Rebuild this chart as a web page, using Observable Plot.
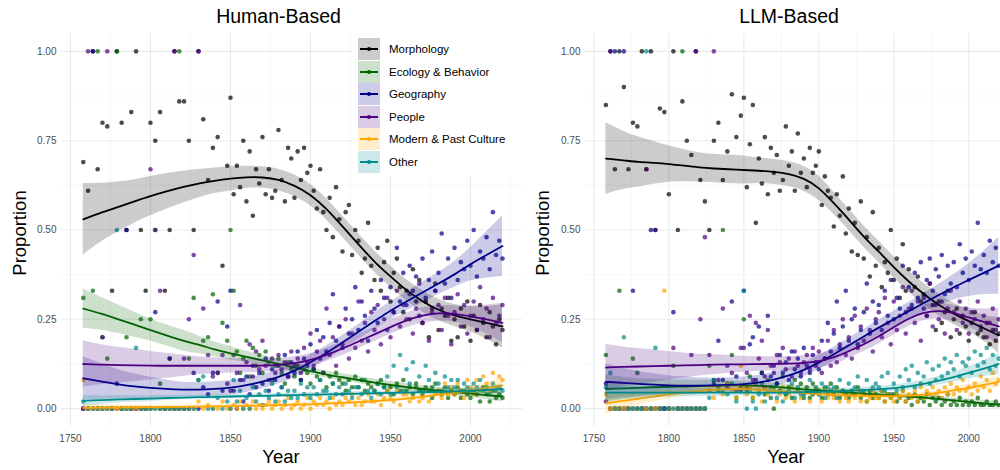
<!DOCTYPE html>
<html><head><meta charset="utf-8">
<script src="https://cdn.jsdelivr.net/npm/d3@7"></script>
<script src="https://cdn.jsdelivr.net/npm/@observablehq/plot@0.6"></script>
<style>
body{margin:0;background:#fff;font-family:"Liberation Sans",Arial,sans-serif}
#fig{position:relative;width:1000px;height:470px;overflow:hidden;background:#fff}
.pl{position:absolute;top:0}
#legend{position:absolute;left:352px;top:33px;width:172px;height:143px;background:#fff}
.lrow{position:absolute;left:0;height:22px;width:172px}
.lrow svg{position:absolute;left:6px;top:0}
.lrow span{position:absolute;left:37px;top:0;line-height:22px;font-size:11.5px;color:#000;white-space:nowrap}
#ov{position:absolute;left:0;top:0;pointer-events:none}
</style>
</head><body>
<div id="fig"></div>
<script>
// ---------- categories & colours ----------
const categories = ["Morphology","Ecology & Behavior","Geography","People","Modern & Past Culture","Other"];
const colors = ["#000000","#006400","#00008B","#4B0082","#FFA500","#008B8B"];

// ---------- axis ticks ----------
const xTicks = [1750,1800,1850,1900,1950,2000];
const xMinor = [1775,1825,1875,1925,1975,2025];
const yTicks = [0,0.25,0.5,0.75,1];
const yMinor = [0.125,0.375,0.625,0.875];

// ---------- point years ----------
const pointYears = [1758,1761,1764,1767,1770,1773,1776,1779,1782,1785,1788,1791,1794,1797,1800,1803,1806,1809,1812,1815,1818,1821,1824,1827,1830,1833,1836,1839,1842,1845,1848,
1850,1852,1854,1856,1858,1860,1862,1864,1866,1868,1870,1872,1874,1876,1878,1880,1882,1884,1886,1888,1890,1892,1894,1896,1898,
1900,1902,1904,1906,1908,1910,1912,1914,1916,1918,1920,1922,1924,1926,1928,1930,1932,1934,1936,1938,1940,1942,1944,1946,1948,
1950,1952,1954,1956,1958,1960,1962,1964,1966,1968,1970,1972,1974,1976,1978,1980,1982,1984,1986,1988,1990,1992,1994,1996,1998,
2000,2002,2004,2006,2008,2010,2012,2014,2016,2018,2020];

// ---------- Human-Based points ----------
const hMorph = [.69,.61,1,.67,.80,.79,.33,1,.80,.50,.83,1,.50,.33,.80,.75,.83,.33,.50,1,.86,.86,.75,.50,1,.81,.64,.73,.76,.40,.68,
.87,.60,.68,.62,.75, .58,.72,.54,.67,.63, .76,.60,.67,.59,.61, .78,.64,.58,.73,.70, .59,.72,.64,.73,.66,
.68,.61,.56,.67,.55, .50,.59,.48,.62,.53, .44,.55,.57,.43,.50, .47,.38,.42,.52,.40, .36,.45,.33,.41,.47,
.30,.38,.42,.34,.27, .33,.25,.39,.30,.36, .24,.30,.20,.28,.35, .22,.28,.26,.31,.19, .25,.20,.28,.23,.30,
.19,.26,.22,.29,.24, .20,.27,.23,.18,.25, .22];
const hEco = [.31,0,.33,1,.20,.14,0,1,0,.20,0,0,.25,0,.25,.50,.07,0,.14,0,1,0,.14,.31,.08,.19,.20,.32,.10,.24,.19,
.50,.33,.16,.10,.14, .19,.09,.17,.12,.15, .10,.16,.13,.08,.12, .14,.10,.07,.13,.11, .09,.12,.08,.11,.10,
.07,.11,.09,.08,.10, .06,.09,.07,.10,.08, .07,.05,.08,.06,.09, .06,.08,.05,.07,.06, .05,.07,.08,.06,.05,
.06,.04,.07,.05,.08, .05,.06,.04,.07,.05, .04,.06,.05,.03,.07, .05,.04,.06,.03,.05, .04,.06,.03,.05,.04,
.03,.05,.04,.02,.06, .04,.02,.05,.03,.04, .03];
const hGeo = [0,0,1,0,0,0,0,.07,0,.50,0,0,0,0,0,.27,0,0,.14,0,0,0,0,.10,0,.06,.04,.10,.30,.05,.23,
.33,.05,0,.08,.02, .09,.04,.12,.06,.10, .07,.14,.05,.11,.08, .12,.06,.15,.09,.13, .10,.16,.08,.14,.12,
.18,.11,.22,.14,.20, .16,.24,.32,.19,.23, .17,.28,.21,.25,.34, .22,.30,.26,.19,.33, .28,.24,.36,.31,.22,
.34,.27,.45,.30,.38, .29,.40,.33,.37,.26, .42,.31,.36,.44,.33, .38,.49,.35,.42,.31, .45,.36,.41,.39,.47,
.40,.50,.37,.44,.42, .48,.39,.55,.43,.47, .42];
const hPeople = [0,1,0,0,.20,1,0,0,0,0,0,0,0,0,.67,.50,.33,0,0,1,0,.14,.25,.43,1,.28,.15,.09,.10,.15,.07,
.05,.15,.10,.29,.08, .13,.18,.09,.16,.11, .19,.12,.08,.14,.10, .15,.11,.13,.09,.16, .12,.14,.10,.17,.13,
.21,.12,.16,.19,.10, .28,.15,.20,.12,.23, .18,.25,.14,.21,.17, .30,.19,.24,.16,.27, .22,.29,.18,.25,.31,
.20,.27,.33,.23,.29, .25,.32,.21,.28,.35, .24,.30,.19,.27,.33, .29,.22,.31,.26,.18, .27,.32,.23,.29,.21,
.26,.30,.22,.34,.25, .28,.20,.31,.24,.26, .29];
const hModern = [.08,0,0,0,0,0,0,0,0,0,0,0,0,0,0,0,0,0,0,0,0,0,0,0,.02,0,.01,0,0,.02,0,
0,.01,0,.02,0, .01,0,.02,0,.01, 0,.01,.02,0,.01, .02,0,.01,.03,0, .01,.02,0,.01,.03,
0,.02,.01,.03,.01, .02,0,.03,.01,.02, .01,.03,.02,.04,.01, .03,.01,.02,.04,.02, .02,.04,.01,.03,.05,
.03,.02,.05,.01,.04, .04,.02,.03,.06,.02, .03,.05,.02,.06,.04, .05,.03,.07,.04,.06, .04,.07,.05,.03,.08,
.06,.04,.08,.05,.09, .07,.05,.10,.06,.09, .08];
const hOther = [.02,0,0,0,0,0,0,.50,0,0,0,.17,0,0,0,0,0,0,0,0,0,0,0,0,.08,.09,0,0,.03,0,.02,
0,.08,.02,.05,0, .03,0,.06,.02,.04, .01,.05,.03,.07,.02, .04,.06,.02,.05,.03, .05,.03,.07,.04,.06,
.03,.06,.04,.08,.05, .05,.03,.07,.04,.06, .04,.07,.05,.03,.06, .06,.04,.08,.05,.03, .05,.07,.04,.06,.09,
.04,.12,.06,.15,.05, .11,.07,.13,.06,.09, .05,.12,.08,.06,.10, .07,.05,.09,.06,.08, .06,.08,.05,.07,.06,
.05,.07,.06,.08,.05, .06,.04,.07,.05,.06, .05];

// ---------- LLM-Based points ----------
const lMorph = [.85,1,.67,1,.90,.67,.80,.79,1,.67,1,.50,.84,.83,.60,1,.50,.86,.75,.71,1,.64,.58,.50,.75,.80,.64,.72,.88,.76,.82,
.87,.62,.74,.85,.52, .70,.63,.76,.60,.73, .66,.71,.61,.64,.79, .68,.72,.61,.77,.66, .70,.62,.73,.66,.68,
.72,.57,.65,.61,.59, .51,.60,.54,.65,.49, .56,.44,.52,.43,.58, .42,.48,.37,.55,.40, .45,.34,.41,.38,.50,
.36,.42,.31,.46,.33, .39,.28,.34,.37,.30, .32,.26,.35,.29,.22, .30,.24,.27,.33,.20, .25,.28,.21,.26,.23,
.19,.24,.27,.21,.22, .20,.24,.18,.22,.19, .21];
const lEco = [.15,0,0,.33,0,0,.14,.10,0,0,0,0,0,0,0,.12,0,1,0,0,0,0,0,.12,.08,.05,.50,.07,.15,.03,.06,
.25,.06,.09,.03,.07, .05,.10,.04,.08,.06, 0,.07,.05,.09,.04, .06,.03,.08,.05,.07, .04,.06,.03,.07,.05,
.05,.03,.06,.04,.07, .04,.06,.03,.05,.04, .03,.05,.04,.06,.03, .04,.02,.05,.03,.04, .03,.05,.02,.04,.03,
.04,.02,.03,.05,.02, .03,.01,.04,.02,.03, .02,.04,.01,.03,.02, .03,.01,.02,.04,.01, .02,.01,.03,.01,.02,
.01,.02,.01,.03,.01, .01,.02,.01,.01,.02, .01];
const lGeo = [.07,0,1,0,1,0,.33,0,0,0,.50,0,0,0,0,.27,0,0,0,0,0,0,0,.05,.07,.19,.08,.06,.30,.09,.05,
.33,.05,.18,.20,.08, .23,.10,.06,.26,.09, .12,.07,.15,.10,.13, .08,.16,.11,.14,.09, .17,.12,.10,.15,.13,
.11,.19,.14,.24,.16, .21,.30,.17,.23,.33, .19,.25,.28,.18,.22, .27,.35,.21,.30,.24, .29,.22,.33,.26,.36,
.25,.31,.28,.40,.27, .34,.29,.38,.31,.41, .28,.36,.42,.33,.39, .37,.43,.32,.40,.35, .41,.34,.46,.38,.42,
.36,.44,.40,.52,.39, .43,.38,.47,.41,.45, .40];
const lPeople = [.02,1,0,0,0,0,0,0,0,.67,0,.50,0,0,0,.17,0,0,0,.15,1,.25,.48,.15,1,.08,.28,.12,.10,.05,.17,
.17,.10,.26,.08,.24, .14,.19,.09,.22,.12, .10,.15,.13,.17,.11, .14,.09,.16,.12,.10, .13,.15,.11,.17,.12,
.16,.10,.14,.19,.12, .22,.13,.18,.25,.15, .20,.14,.26,.17,.23, .19,.28,.22,.16,.25, .27,.20,.31,.24,.18,
.30,.22,.26,.34,.21, .28,.33,.24,.30,.19, .31,.26,.35,.23,.29, .25,.30,.21,.28,.33, .27,.22,.30,.24,.28,
.21,.27,.25,.30,.23, .26,.20,.24,.28,.22, .25];
const lModern = [.04,0,0,0,0,0,0,0,0,0,0,0,0,.33,0,0,0,0,0,0,0,0,0,.05,.03,.06,.04,.07,.05,.03,.12,
.06,.04,.06,.03,.07, .05,.02,.06,.04,.03, .05,.02,.04,.06,.03, .04,.06,.02,.05,.03, .03,.05,.02,.04,.06,
.04,.02,.05,.03,.04, .03,.05,.02,.04,.03, .02,.04,.03,.05,.02, .04,.02,.03,.05,.03, .03,.05,.02,.04,.03,
.02,.04,.03,.05,.02, .04,.03,.05,.02,.06, .03,.05,.04,.06,.04, .05,.03,.06,.04,.07, .04,.06,.05,.08,.05,
.06,.04,.07,.05,.09, .06,.08,.05,.10,.07, .08];
const lOther = [.06,.10,0,0,.20,0,0,0,0,1,0,.17,0,0,0,0,0,0,0,0,0,0,0,.03,.08,.06,.05,.04,.07,.02,.05,
.33,0,.05,.02,0, .04,.07,.02,.05,.03, .06,.03,.05,.02,.04, .05,.07,.03,.06,.04, .03,.05,.08,.04,.06,
.04,.07,.03,.06,.05, .06,.03,.08,.05,.04, .07,.04,.06,.09,.05, .05,.08,.04,.06,.07, .06,.09,.05,.10,.04,
.07,.05,.09,.06,.11, .08,.12,.06,.10,.07, .09,.13,.07,.11,.08, .12,.09,.14,.10,.13, .11,.15,.09,.13,.12,
.14,.10,.16,.12,.15, .13,.17,.11,.15,.12, .14];

// ---------- smoothed fits ----------
const fitYears = [1758,1770,1780,1790,1800,1810,1820,1830,1840,1850,1860,1870,1880,1890,1900,1910,1920,1930,1940,1950,1960,1970,1980,1990,2000,2010,2020];

const hMorphFit = [.53,.55,.565,.58,.595,.608,.62,.63,.638,.644,.648,.648,.642,.625,.60,.56,.51,.46,.41,.37,.33,.30,.275,.26,.25,.24,.23];
const hMorphSe  = [.10,.08,.07,.06,.055,.05,.045,.04,.035,.035,.03,.03,.03,.03,.03,.03,.03,.03,.03,.03,.03,.03,.03,.03,.035,.045,.06];
const hEcoFit = [.28,.265,.25,.235,.22,.205,.19,.18,.165,.155,.145,.135,.125,.115,.105,.095,.088,.08,.073,.066,.06,.055,.05,.046,.042,.038,.034];
const hEcoSe  = [.055,.045,.04,.035,.03,.03,.03,.025,.02,.02,.015,.015,.012,.012,.01,.01,.01,.01,.01,.01,.01,.01,.01,.01,.01,.012,.015];
const hGeoFit = [.085,.075,.068,.062,.058,.055,.053,.053,.055,.058,.065,.075,.088,.105,.13,.155,.185,.215,.245,.275,.30,.325,.35,.375,.405,.43,.455];
const hGeoSe  = [.06,.05,.04,.035,.03,.025,.02,.02,.02,.02,.02,.02,.02,.02,.02,.02,.02,.02,.025,.025,.025,.03,.03,.035,.045,.065,.085];
const hPeopleFit = [.125,.123,.122,.121,.12,.12,.12,.12,.12,.12,.12,.12,.122,.127,.135,.15,.168,.188,.208,.228,.248,.262,.268,.266,.258,.25,.24];
const hPeopleSe  = [.065,.055,.05,.045,.04,.035,.03,.025,.022,.02,.02,.018,.018,.018,.018,.018,.02,.02,.02,.02,.02,.022,.022,.022,.028,.04,.055];
const hModernFit = [.002,.003,.003,.004,.004,.005,.005,.006,.006,.007,.008,.009,.01,.011,.012,.014,.016,.018,.021,.024,.028,.033,.039,.045,.051,.058,.065];
const hModernSe  = [.01,.008,.007,.006,.005,.005,.005,.005,.005,.005,.005,.005,.005,.005,.005,.005,.005,.005,.005,.006,.006,.007,.008,.009,.01,.015,.022];
const hOtherFit = [.022,.024,.026,.027,.028,.03,.031,.032,.033,.034,.035,.036,.037,.038,.039,.04,.041,.042,.043,.044,.045,.046,.047,.048,.05,.052,.055];
const hOtherSe  = [.015,.012,.01,.009,.008,.007,.006,.006,.006,.006,.006,.006,.006,.006,.006,.006,.006,.006,.006,.006,.006,.006,.006,.007,.008,.01,.014];

const lMorphFit = [.70,.695,.69,.688,.685,.68,.675,.672,.67,.668,.666,.663,.658,.645,.62,.575,.53,.48,.44,.395,.355,.32,.29,.265,.245,.225,.205];
const lMorphSe  = [.10,.08,.07,.06,.05,.045,.04,.04,.04,.04,.035,.035,.035,.035,.035,.03,.03,.03,.03,.03,.03,.03,.03,.03,.03,.035,.05];
const lEcoFit = [.055,.057,.058,.06,.061,.062,.063,.064,.065,.065,.064,.061,.058,.054,.051,.048,.045,.042,.04,.037,.034,.031,.027,.023,.019,.015,.011];
const lEcoSe  = [.04,.03,.025,.022,.02,.018,.016,.015,.013,.012,.01,.01,.01,.01,.008,.008,.008,.008,.007,.007,.007,.007,.007,.007,.007,.008,.01];
const lGeoFit = [.075,.072,.069,.067,.065,.064,.064,.065,.066,.068,.073,.081,.092,.108,.128,.152,.177,.202,.227,.25,.273,.296,.318,.34,.36,.38,.40];
const lGeoSe  = [.05,.04,.035,.03,.027,.025,.022,.02,.02,.02,.02,.02,.02,.02,.02,.02,.02,.02,.022,.022,.025,.025,.03,.035,.045,.06,.08];
const lPeopleFit = [.115,.117,.118,.119,.12,.121,.122,.123,.124,.124,.125,.125,.126,.128,.132,.143,.16,.18,.202,.228,.253,.27,.275,.268,.255,.243,.23];
const lPeopleSe  = [.065,.055,.05,.045,.04,.035,.03,.028,.025,.022,.02,.02,.02,.02,.02,.02,.02,.02,.022,.022,.022,.022,.022,.022,.025,.035,.05];
const lModernFit = [.015,.022,.028,.034,.04,.045,.05,.053,.055,.055,.053,.05,.047,.044,.041,.039,.037,.036,.035,.035,.036,.039,.044,.051,.058,.066,.075];
const lModernSe  = [.03,.022,.018,.015,.012,.01,.01,.01,.01,.01,.008,.007,.007,.006,.006,.006,.006,.006,.006,.006,.006,.006,.007,.008,.009,.012,.016];
const lOtherFit = [.045,.045,.045,.045,.045,.045,.045,.045,.045,.045,.045,.045,.045,.046,.047,.048,.05,.052,.054,.057,.062,.069,.078,.088,.10,.112,.125];
const lOtherSe  = [.025,.02,.017,.015,.013,.012,.011,.01,.01,.01,.009,.008,.008,.008,.008,.008,.008,.008,.008,.009,.01,.011,.012,.014,.017,.022,.03];

// ---------- build tables ----------
function pointTable(series) {
  return categories.flatMap((c, i) => pointYears.map((yr, j) => ({year: yr, value: series[i][j], cat: c})));
}
function fitTable(fits, ses) {
  return categories.map((c, i) => fitYears.map((yr, j) => ({year: yr, fit: fits[i][j], lo: fits[i][j] - ses[i][j], hi: fits[i][j] + ses[i][j], cat: c})));
}
const humanPts = pointTable([hMorph, hEco, hGeo, hPeople, hModern, hOther]);
const llmPts = pointTable([lMorph, lEco, lGeo, lPeople, lModern, lOther]);
const humanFit = fitTable([hMorphFit, hEcoFit, hGeoFit, hPeopleFit, hModernFit, hOtherFit], [hMorphSe, hEcoSe, hGeoSe, hPeopleSe, hModernSe, hOtherSe]);
const llmFit = fitTable([lMorphFit, lEcoFit, lGeoFit, lPeopleFit, lModernFit, lOtherFit], [lMorphSe, lEcoSe, lGeoSe, lPeopleSe, lModernSe, lOtherSe]);

function panel(pts, fits, opts) {
  const smoothMarks = fits.flatMap(f => [
    Plot.areaY(f, {x: "year", y1: "lo", y2: "hi", fill: "cat", fillOpacity: 0.2, curve: "basis"}),
    Plot.line(f, {x: "year", y: "fit", stroke: "cat", strokeWidth: 1.8, curve: "basis"})
  ]);
  return Plot.plot({
    width: opts.width, height: 470,
    marginLeft: opts.ml, marginRight: opts.mr, marginTop: 33, marginBottom: 44,
    style: {background: "none", overflow: "visible", fontFamily: "Liberation Sans, Arial, sans-serif", fontSize: "10px", color: "#4d4d4d"},
    x: {domain: [1744.4, 2032.5], label: null},
    y: {domain: [-0.05, 1.05], label: null},
    color: {domain: categories, range: colors},
    marks: [
      Plot.ruleX(xMinor, {stroke: "#f2f2f2", strokeWidth: 0.6}),
      Plot.ruleY(yMinor, {stroke: "#f2f2f2", strokeWidth: 0.6}),
      Plot.ruleX(xTicks, {stroke: "#ebebeb", strokeWidth: 1.1}),
      Plot.ruleY(yTicks, {stroke: "#ebebeb", strokeWidth: 1.1}),
      Plot.axisX({ticks: xTicks, tickSize: 0, tickPadding: 8.5, tickFormat: d => String(d), label: null}),
      Plot.axisY({ticks: yTicks, tickSize: 0, tickPadding: 5, tickFormat: d3.format(".2f"), label: null}),
      Plot.dot(pts, {x: "year", y: "value", fill: "cat", r: 2.3, fillOpacity: 0.7, stroke: "none"}),
      ...smoothMarks
    ]
  });
}

const fig = document.getElementById("fig");
const left = panel(humanPts, humanFit, {width: 525, ml: 61, mr: 3});
left.classList.add("pl"); left.style.left = "0px";
fig.appendChild(left);
const right = panel(llmPts, llmFit, {width: 520, ml: 65, mr: 23});
right.classList.add("pl"); right.style.left = "520px";
fig.appendChild(right);

// ---------- legend ----------
const legend = document.createElement("div");
legend.id = "legend";
categories.forEach((c, i) => {
  const row = document.createElement("div");
  row.className = "lrow";
  row.style.top = (5 + i * 22.6) + "px";
  row.innerHTML = `<svg width="22" height="22"><rect x="0" y="0" width="22" height="22" fill="${colors[i]}" fill-opacity="0.2"/>` +
    `<line x1="2" x2="20" y1="11" y2="11" stroke="${colors[i]}" stroke-width="2"/><circle cx="11" cy="11" r="2" fill="${colors[i]}"/></svg>` +
    `<span>${c}</span>`;
  legend.appendChild(row);
});
fig.appendChild(legend);

// ---------- titles ----------
const ns = "http://www.w3.org/2000/svg";
const ov = document.createElementNS(ns, "svg");
ov.setAttribute("id", "ov"); ov.setAttribute("width", 1000); ov.setAttribute("height", 470);
const texts = [
  {t: "Human-Based", x: 278.5, y: 23, size: 19.5},
  {t: "LLM-Based", x: 789, y: 23, size: 19.5},
  {t: "Year", x: 281, y: 463, size: 18.5},
  {t: "Year", x: 786, y: 463, size: 18.5},
  {t: "Proportion", x: 25.5, y: 233, size: 18.5, rot: true},
  {t: "Proportion", x: 548.5, y: 233, size: 18.5, rot: true}
];
texts.forEach(d => {
  const el = document.createElementNS(ns, "text");
  el.textContent = d.t;
  el.setAttribute("text-anchor", "middle");
  el.setAttribute("font-family", "Liberation Sans, Arial, sans-serif");
  el.setAttribute("font-size", d.size);
  el.setAttribute("fill", "#000");
  if (d.rot) el.setAttribute("transform", `translate(${d.x},${d.y}) rotate(-90)`);
  else { el.setAttribute("x", d.x); el.setAttribute("y", d.y); }
  ov.appendChild(el);
});
fig.appendChild(ov);
</script>
</body></html>
